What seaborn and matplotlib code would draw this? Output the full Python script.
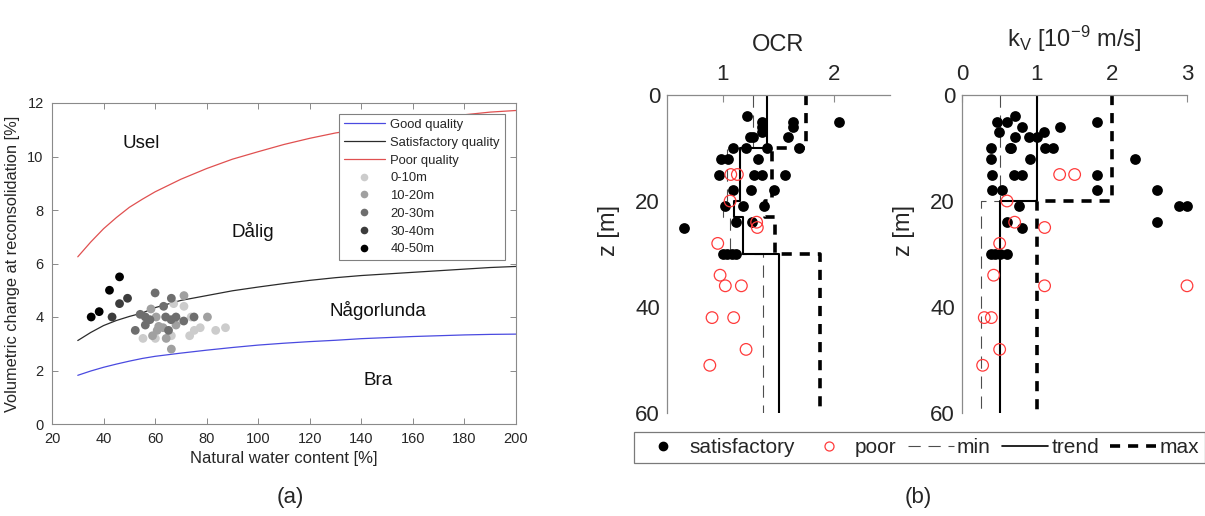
import numpy as np
import pandas as pd
import matplotlib
matplotlib.use('Agg')
import matplotlib.pyplot as plt
import seaborn as sns
from matplotlib.lines import Line2D

# ---------------- data: panel (a) ----------------
water = [30, 35, 40, 45, 50, 55, 60, 70, 80, 90, 100, 110, 120, 130, 140, 150, 160, 170, 180, 190, 200]
good_q = [1.82, 1.98, 2.12, 2.24, 2.35, 2.45, 2.53, 2.65, 2.76, 2.86, 2.95, 3.02, 3.08, 3.13, 3.19, 3.23, 3.27, 3.30, 3.33, 3.35, 3.36]
satis_q = [3.12, 3.42, 3.68, 3.87, 4.02, 4.15, 4.35, 4.62, 4.80, 4.98, 5.12, 5.25, 5.37, 5.47, 5.55, 5.61, 5.67, 5.73, 5.79, 5.85, 5.89]
poor_q = [6.25, 6.80, 7.30, 7.72, 8.10, 8.40, 8.68, 9.15, 9.55, 9.90, 10.18, 10.45, 10.68, 10.88, 11.03, 11.17, 11.30, 11.43, 11.56, 11.66, 11.72]

w_0_10 = [55.3, 60.1, 66.3, 67.2, 71.2, 73.4, 74.0, 75.2, 77.5, 83.5, 87.3]
v_0_10 = [3.2, 3.2, 3.3, 4.5, 4.4, 3.3, 4.0, 3.5, 3.6, 3.5, 3.6]
w_10_20 = [58.4, 59.0, 60.4, 60.8, 61.4, 63.1, 64.3, 66.3, 68.1, 71.2, 80.3]
v_10_20 = [4.3, 3.3, 4.0, 3.5, 3.65, 3.6, 3.2, 2.8, 3.7, 4.8, 4.0]
w_20_30 = [52.3, 54.2, 56.2, 56.2, 58.0, 60.0, 63.3, 64.1, 65.2, 66.3, 66.2, 68.1, 71.1, 75.1]
v_20_30 = [3.5, 4.1, 4.0, 3.7, 3.9, 4.9, 4.4, 4.0, 3.5, 4.7, 3.9, 4.0, 3.85, 4.0]
w_30_40 = [43.3, 46.2, 49.3]
v_30_40 = [4.0, 4.5, 4.7]
w_40_50 = [35.2, 38.3, 42.3, 46.2]
v_40_50 = [4.0, 4.2, 5.0, 5.5]
depth_classes = ['0-10m', '10-20m', '20-30m', '30-40m', '40-50m']
class_colors = ['#cccccc', '#a0a0a0', '#6e6e6e', '#3c3c3c', '#000000']

# ---------------- data: panel (b) ----------------
ocr_sat_x = [1.215, 1.355, 1.633, 2.045, 1.355, 1.633, 1.355, 1.245, 1.275, 1.588, 1.09, 1.209, 1.394, 1.684,
             0.985, 1.05, 1.316, 0.97, 1.28, 1.355, 1.561, 1.096, 1.257, 1.463, 1.021, 1.179, 1.37, 0.648,
             1.119, 1.26, 1.0, 1.04, 1.084, 1.12]
ocr_sat_z = [4, 5, 5, 5, 6, 6, 7, 8, 8, 8, 10, 10, 10, 10, 12, 12, 12, 15, 15, 15, 15, 18, 18, 18, 21, 21, 21, 25,
             24, 24, 30, 30, 30, 30]
ocr_poor_x = [1.072, 1.131, 1.066, 1.304, 1.31, 0.955, 0.976, 1.023, 1.167, 0.904, 1.098, 1.209, 0.884]
ocr_poor_z = [15, 15, 20, 24, 25, 28, 34, 36, 36, 42, 42, 48, 51]
ocr_edges = [0, 10, 20, 23, 30, 60]
ocr_min = [1.275, 1.04, 1.0, 1.065, 1.365]
ocr_trend = [1.395, 1.155, 1.105, 1.185, 1.5]
ocr_max = [1.745, 1.44, 1.38, 1.47, 1.875]

kv_sat_x = [0.702, 0.471, 0.6, 1.8, 0.8, 1.302, 0.493, 1.098, 0.702, 0.889, 1.0, 0.382, 0.636, 0.658, 1.102, 1.209,
            0.387, 0.902, 2.302, 0.396, 0.698, 0.804, 1.8, 0.404, 0.529, 1.8, 2.604, 0.76, 2.898, 3.004, 0.6, 0.8,
            2.604, 0.387, 0.44, 0.502, 0.6]
kv_sat_z = [4, 5, 5, 5, 6, 6, 7, 7, 8, 8, 8, 10, 10, 10, 10, 10, 12, 12, 12, 15, 15, 15, 15, 18, 18, 18, 18, 21, 21,
            21, 24, 25, 24, 30, 30, 30, 30]
kv_poor_x = [1.302, 1.502, 0.6, 0.702, 1.102, 0.502, 0.422, 1.101, 3.0, 0.297, 0.391, 0.502, 0.275]
kv_poor_z = [15, 15, 20, 24, 25, 28, 34, 36, 36, 42, 42, 48, 51]
kv_edges = [0, 20, 60]
kv_min = [0.5, 0.25]
kv_trend = [1.0, 0.5]
kv_max = [2.0, 1.0]

# ---------------- style ----------------
sns.set_theme(style='white')
plt.rcParams['font.family'] = ['Liberation Sans', 'DejaVu Sans']
plt.rcParams['mathtext.fontset'] = 'custom'
plt.rcParams['mathtext.rm'] = 'Liberation Sans'
plt.rcParams['mathtext.it'] = 'Liberation Sans:italic'
plt.rcParams['axes.unicode_minus'] = False

SPINE = '#8a8a8a'
TXT = '#262626'

fig = plt.figure(figsize=(12.05, 5.16), dpi=100)
W, H = 1205, 516


def px_axes(x0, y0, x1, y1):
    return fig.add_axes([x0 / W, 1 - y1 / H, (x1 - x0) / W, (y1 - y0) / H])


# ================= panel (a) =================
axA = px_axes(52, 103, 516, 424)
curves = pd.DataFrame({'w': water * 3,
                       'v': good_q + satis_q + poor_q,
                       'q': ['Good quality'] * len(water) + ['Satisfactory quality'] * len(water) + ['Poor quality'] * len(water)})
sns.lineplot(data=curves, x='w', y='v', hue='q',
             palette={'Good quality': '#4a4ae0', 'Satisfactory quality': '#2b2b2b', 'Poor quality': '#e05050'},
             linewidth=0.9, ax=axA, legend=False)

pts = pd.DataFrame({
    'w': w_0_10 + w_10_20 + w_20_30 + w_30_40 + w_40_50,
    'v': v_0_10 + v_10_20 + v_20_30 + v_30_40 + v_40_50,
    'd': [depth_classes[0]] * len(w_0_10) + [depth_classes[1]] * len(w_10_20) + [depth_classes[2]] * len(w_20_30)
         + [depth_classes[3]] * len(w_30_40) + [depth_classes[4]] * len(w_40_50)})
sns.scatterplot(data=pts, x='w', y='v', hue='d', palette=dict(zip(depth_classes, class_colors)),
                s=40, linewidth=0, ax=axA, legend=False, zorder=3)

axA.set_xlim(20, 200)
axA.set_ylim(0, 12)
axA.set_xticks(range(20, 201, 20))
axA.set_yticks(range(0, 13, 2))
axA.tick_params(direction='in', length=4, width=0.7, color=SPINE, labelsize=10.5, labelcolor=TXT,
                top=True, right=True, bottom=True, left=True, pad=6)
for s in axA.spines.values():
    s.set_color(SPINE)
    s.set_linewidth(0.8)
axA.set_xlabel('Natural water content [%]', fontsize=12, color=TXT, labelpad=3)
axA.set_ylabel('Volumetric change at reconsolidation [%]', fontsize=11.8, color=TXT, labelpad=5)

for txt, xw, yv in [('Usel', 54.6, 10.48), ('Dålig', 97.9, 7.19), ('Någorlunda', 146.5, 4.24), ('Bra', 146.5, 1.62)]:
    axA.text(xw, yv, txt, fontsize=13.5, ha='center', va='center', color='#111111')

legA = [Line2D([], [], color='#4a4ae0', lw=0.9),
        Line2D([], [], color='#2b2b2b', lw=0.9),
        Line2D([], [], color='#e05050', lw=0.9)] + \
       [Line2D([], [], ls='none', marker='o', ms=5.5, mfc=c, mec='none') for c in class_colors]
legA_labels = ['Good quality', 'Satisfactory quality', 'Poor quality'] + depth_classes
lg = axA.legend(legA, legA_labels, loc='upper right', bbox_to_anchor=(0.976, 0.966), fontsize=9.4,
                frameon=True, fancybox=False, edgecolor='#808080', handlelength=3.1, handletextpad=0.45,
                labelspacing=0.43, borderpad=0.38, borderaxespad=0, framealpha=1)
lg.get_frame().set_linewidth(0.8)

fig.text(290 / W, 1 - 497 / H, '(a)', fontsize=16, ha='center', va='center', color=TXT)
fig.text(918 / W, 1 - 497 / H, '(b)', fontsize=16, ha='center', va='center', color=TXT)


# ================= panel (b) =================
def step_xy(edges, vals):
    xs = np.repeat(np.asarray(vals, float), 2)
    ys = np.column_stack([edges[:-1], edges[1:]]).ravel()
    return xs, ys


def profile(ax, sat_x, sat_z, poor_x, poor_z, edges, vmin, vtrend, vmax, xlim, xticks, title, title_y):
    for vals, kw in [(vmin, dict(color='#4d4d4d', lw=0.8, dashes=(11, 7))),
                     (vtrend, dict(color='black', lw=1.5)),
                     (vmax, dict(color='black', lw=2.6, dashes=(2.8, 2.2)))]:
        xs, ys = step_xy(edges, vals)
        sns.lineplot(x=xs, y=ys, sort=False, estimator=None, ax=ax, legend=False, **kw)
    sns.scatterplot(x=sat_x, y=sat_z, ax=ax, color='black', s=60, linewidth=0, zorder=4, legend=False)
    sns.scatterplot(x=poor_x, y=poor_z, ax=ax, marker='o', s=70, facecolor='none', edgecolor='#ff3b3b',
                    linewidth=0.9, zorder=5, legend=False)
    ax.set_xlim(*xlim)
    ax.set_ylim(60, 0)
    ax.set_xticks(xticks)
    ax.set_yticks([0, 20, 40, 60])
    ax.xaxis.tick_top()
    ax.tick_params(direction='in', length=5, width=0.8, color=SPINE, labelsize=16, labelcolor=TXT, pad=5)
    ax.tick_params(axis='x', pad=7)
    for side in ['right', 'bottom']:
        ax.spines[side].set_visible(False)
    for side in ['left', 'top']:
        ax.spines[side].set_color(SPINE)
        ax.spines[side].set_linewidth(0.9)
    ax.set_ylabel('z [m]', fontsize=17, color=TXT)
    ax.yaxis.set_label_coords(-0.21, 0.575)
    ax.set_xlabel('')
    ax.text(0.5, title_y, title, transform=ax.transAxes, fontsize=17, ha='center', va='baseline', color=TXT)


axO = px_axes(667, 95, 890, 413)
profile(axO, ocr_sat_x, ocr_sat_z, ocr_poor_x, ocr_poor_z, ocr_edges, ocr_min, ocr_trend, ocr_max,
        (0.5, 2.5), [1, 2], 'OCR', 1.138)

axK = px_axes(962, 95, 1187, 413)
profile(axK, kv_sat_x, kv_sat_z, kv_poor_x, kv_poor_z, kv_edges, kv_min, kv_trend, kv_max,
        (0, 3), [0, 1, 2, 3], r'k$_{\mathregular{V}}$ [10$^{\mathregular{-9}}$ m/s]', 1.151)
for a in (axO, axK):
    for c in a.collections:
        c.set_clip_on(False)

handles = [Line2D([], [], ls='none', marker='o', ms=6, mfc='black', mec='black'),
           Line2D([], [], ls='none', marker='o', ms=6.5, mfc='none', mec='#ff3b3b', mew=0.9),
           Line2D([], [], color='#4d4d4d', lw=0.8, dashes=(11, 7)),
           Line2D([], [], color='black', lw=1.2),
           Line2D([], [], color='black', lw=2.6, dashes=(2.8, 2.2))]
labels = ['satisfactory', 'poor', 'min', 'trend', 'max']
lgB = fig.legend(handles, labels, loc='center', bbox_to_anchor=(919.5 / W, 1 - 447.5 / H), ncol=5, fontsize=15,
                 frameon=True, fancybox=False, edgecolor='#7a7a7a', handlelength=2.2, handletextpad=0.15,
                 columnspacing=0.55, borderpad=0.3, framealpha=1)
lgB.get_frame().set_linewidth(0.9)
for t in lgB.get_texts():
    t.set_color(TXT)

fig.savefig('out.png', dpi=100)
